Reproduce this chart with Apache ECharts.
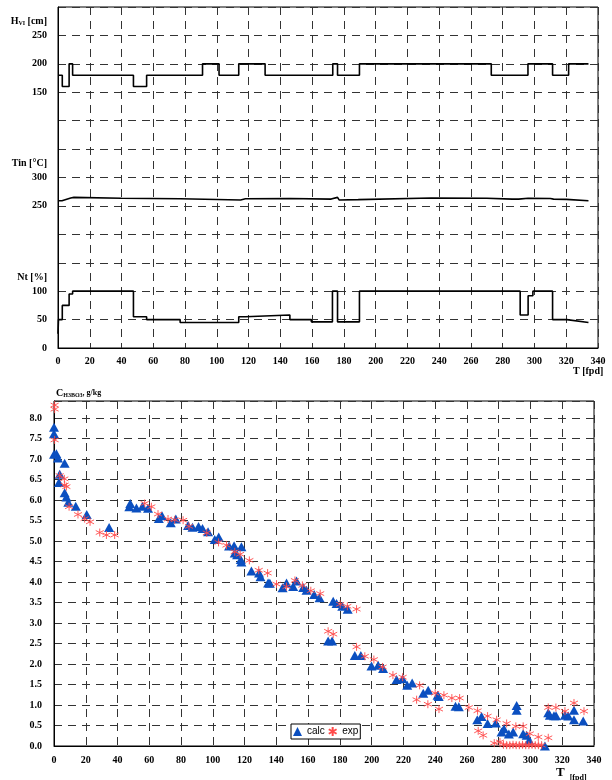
<!DOCTYPE html>
<html><head><meta charset="utf-8">
<script src="https://cdn.jsdelivr.net/npm/echarts@6/dist/echarts.min.js"></script>
<style>html,body{margin:0;padding:0;background:#fff}#c{width:612px;height:780px}</style>
</head><body><div id="c"></div>
<script>
// ---- top panel: operating history (polyline vertices) ----
const hData = [[0,180],[2.7,180],[2.7,160],[7,160],[7,200],[9.2,200],[9.2,180],[47.5,180],[47.5,160],[55.8,160],[55.8,180],[91,180],[91,200],[101.4,200],[101.4,180],[113.8,180],[113.8,200],[130.4,200],[130.4,180],[173,180],[173,200],[176,200],[176,180],[189.8,180],[189.8,200],[272.8,200],[272.8,180],[295.9,180],[295.9,200],[311.4,200],[311.4,180],[321.5,180],[321.5,200],[334,200]];
const tinData = [[0,259],[2.5,259],[2.8,262],[8,264],[10,265],[40,263.5],[77,262.5],[78,261],[115,260.5],[118,262.5],[146,263],[172,262],[173,265],[176,265],[177,260.5],[189,261],[190,264.5],[235,264],[270,263.5],[286,262],[290,262],[296,263.5],[310,263],[312,262],[320,261.5],[321,259],[334,259]];
const ntData = [[0,25],[0.3,50],[2.7,50],[2.7,75],[7,75],[7,95],[9.2,95],[9.2,100],[47.5,100],[47.5,55],[55.8,55],[55.8,50],[76.9,50],[76.9,45],[113.8,45],[113.8,55],[118,55],[118,58],[146,58],[146,50],[159.5,50],[159.5,46],[172.8,46],[172.8,100],[176,100],[176,46],[189.8,46],[189.8,100],[291,100],[291,58],[296,58],[296,92],[299,92],[299,100],[311.4,100],[311.4,50],[320.4,50],[334,45]];

// ---- bottom panel: boric acid concentration ----
const calcData = [[0,7.78],[0,7.62],[0,7.12],[1.5,7.13],[2.5,7.03],[6.7,6.9],[3.6,6.63],[3.1,6.43],[6.7,6.18],[7.8,6.08],[9,5.95],[13.7,5.85],[20.6,5.65],[34.7,5.33],
[47.4,5.84],[48,5.92],[51.9,5.81],[55.7,5.85],[59.2,5.8],[66,5.55],[68,5.62],[73.5,5.45],[76.7,5.54],[84.4,5.38],[87.2,5.34],[91,5.36],[93.5,5.31],[97,5.23],[101.2,5.04],[103.7,5.1],[110.2,4.88],[113.4,4.89],[113.8,4.71],[115.3,4.67],[118,4.86],[117.6,4.55],[118,4.49],
[124.3,4.27],[129.1,4.22],[130,4.13],[134.8,3.98],[135.9,3.97],[143.9,3.86],[146.4,3.98],[150.6,3.89],[152.7,4.03],[156.9,3.87],[159,3.8],[163.8,3.7],[167.2,3.62],[175.8,3.53],[177.9,3.48],[181.5,3.41],[184.9,3.34],[172.6,2.56],[175.1,2.56],[189.4,2.21],[193.2,2.21],[199.9,1.95],[204.1,1.97],[207.2,1.89],[215.7,1.62],[219.5,1.64],[222.4,1.48],[225.5,1.54],[232.5,1.29],[235.6,1.36],[241.5,1.24],[242.2,1.21],[252.8,0.97],[254.9,0.96],[266.5,0.64],[269.2,0.72],[273,0.55],[278.2,0.56],[281.8,0.34],[283.3,0.42],[286.4,0.29],[289.1,0.34],[291.3,0.99],[291.3,0.87],[295.4,0.3],[297.6,0.26],[299.2,0.14],[309.1,0.0],[311.2,0.81],[312.2,0.75],[314.8,0.74],[316.1,0.74],[321.7,0.75],[323.8,0.73],[327.4,0.87],[327.4,0.64],[333.2,0.61]];
const expData = [[0.4,8.32],[0.4,8.22],[0.4,7.47],[3.6,6.6],[6.5,6.52],[6.7,6.37],[7.8,6.33],[9.5,5.84],[15.1,5.65],[19.3,5.55],[22.7,5.47],[28.8,5.21],[33,5.15],[38.2,5.15],
[57.1,5.92],[61.3,5.84],[65.5,5.66],[71.8,5.54],[76,5.52],[81.3,5.51],[85,5.36],[96.2,5.2],[103.6,4.97],[108.6,4.9],[113.8,4.74],[117.2,4.68],[123,4.53],[128.9,4.29],[134.5,4.22],[140.1,3.95],[146.4,3.89],[151.7,4.04],[156.4,3.92],[161.7,3.79],[167.6,3.72],[172.6,2.8],[175.8,2.73],[180.2,3.46],[184.7,3.41],[190.5,3.34],[190.5,2.42],[195.7,2.19],[201.4,2.11],[206.9,1.93],[213.4,1.73],[219.5,1.68],[230.2,1.48],[228.3,1.13],[235.4,1.02],[240,1.29],[242.4,0.9],[245.5,1.24],[250.5,1.17],[255.4,1.17],[261.2,0.94],[266.7,0.86],[267.1,0.37],[270.2,0.26],[273,0.73],[278.7,0.64],[285,0.55],[277.2,0.07],[280.8,0.1],[283,0.03],[285,0.02],[287,0.02],[289,0.03],[291,0.02],[293,0.02],[295,0.03],[297,0.02],[299,0.02],[301,0.03],[303,0.02],[305,0.02],[307,0.02],[290.8,0.48],[295.4,0.48],[299.6,0.3],[304.9,0.22],[311.2,0.2],[311.2,0.94],[316,0.94],[321.7,0.85],[327.4,1.05],[333.7,0.85]];

// ---- tick labels ----
const xRange = [0, 340], xStep = 20;
const ntTickLabels = [0, 50, 100];
const tinTickLabels = [250, 300];
const hTickLabels = [150, 200, 250];
const cTickMax = 8.0;
const panelNames = { nt: 'Nt [%]', tin: 'Tin [°C]', h: '{b|H}{s|VI}{b| [cm]}' };
const seriesNames = ['calc', 'exp'];

const serif = 'Liberation Serif, Times New Roman, serif';
const sans = 'Liberation Sans, Arial, sans-serif';
const dash = { type: [8, 6], color: '#333', width: 1 };
const boldLbl = { fontFamily: serif, fontWeight: 'bold', fontSize: 10, color: '#000' };

function panelAxis(min, ticks, nameVal, name) {
  return {
    type: 'value', gridIndex: 0, min: min, max: min + 600, interval: 25, position: 'left',
    axisLine: { show: false }, axisTick: { show: false }, splitLine: { show: false },
    axisLabel: Object.assign({}, boldLbl, {
      margin: 11,
      formatter: v => (Math.abs(v - nameVal) < 1e-6 ? name : (ticks.indexOf(v) >= 0 ? String(v) : '')),
      rich: { b: { fontFamily: serif, fontWeight: 'bold', fontSize: 10, color: '#000' },
              s: { fontFamily: serif, fontWeight: 'bold', fontSize: 6, color: '#000', verticalAlign: 'bottom', padding: [4, 0, 0, 0] } }
    })
  };
}

const chart = echarts.init(document.getElementById('c'), null, { renderer: 'canvas' });
chart.setOption({
  animation: false,
  backgroundColor: '#fff',
  title: [
    { text: 'T [fpd]', left: 573, top: 366, padding: 0, textStyle: boldLbl },
    { text: '{t|T} {u|[fpd]}', left: 556, top: 764, padding: 0,
      textStyle: { rich: { t: { fontFamily: serif, fontWeight: 'bold', fontSize: 13, color: '#000' },
                           u: { fontFamily: serif, fontWeight: 'bold', fontSize: 8, color: '#000', verticalAlign: 'bottom' } } } },
    { text: '{c|C}{s|H3BO3}{g|, g/kg}', left: 56, top: 388, padding: 0,
      textStyle: { rich: { c: { fontFamily: serif, fontWeight: 'bold', fontSize: 10, color: '#000' },
                           s: { fontFamily: serif, fontWeight: 'bold', fontSize: 6, color: '#000', verticalAlign: 'bottom' },
                           g: { fontFamily: serif, fontWeight: 'bold', fontSize: 8, color: '#000' } } } }
  ],
  grid: [
    { left: 58, top: 7, width: 540, height: 341, show: true, borderColor: '#000', borderWidth: 1, outerBoundsMode: 'none', containLabel: false },
    { left: 54, top: 401, width: 540, height: 345, show: true, borderColor: '#000', borderWidth: 1, outerBoundsMode: 'none', containLabel: false }
  ],
  legend: {
    data: seriesNames, left: 291, top: 724, orient: 'horizontal',
    padding: [2, 2], itemGap: 3, itemWidth: 9, itemHeight: 9,
    borderColor: '#000', borderWidth: 1, backgroundColor: '#fff',
    textStyle: { fontFamily: sans, fontSize: 10, color: '#000' }
  },
  xAxis: [0, 1].map(g => ({
    type: 'value', gridIndex: g, min: xRange[0], max: xRange[1], interval: xStep,
    axisLine: { show: true, lineStyle: { color: '#000', width: 1 } },
    axisTick: { show: false },
    splitLine: { show: true, lineStyle: dash },
    axisLabel: Object.assign({}, boldLbl, { margin: g === 0 ? 8 : 9 })
  })),
  yAxis: [
    panelAxis(0, ntTickLabels, 125, panelNames.nt),
    panelAxis(0, tinTickLabels, 325, panelNames.tin),
    panelAxis(-300, hTickLabels, 275, panelNames.h),
    { type: 'value', gridIndex: 0, min: 0, max: 600, interval: 50, position: 'left',
      axisLine: { show: true, lineStyle: { color: '#000', width: 1 } }, axisTick: { show: false },
      axisLabel: { show: false }, splitLine: { show: true, lineStyle: dash } },
    { type: 'value', gridIndex: 1, min: 0, max: 8.42, interval: 0.5,
      axisLine: { show: true, lineStyle: { color: '#000', width: 1 } }, axisTick: { show: false },
      splitLine: { show: true, lineStyle: dash },
      axisLabel: Object.assign({}, boldLbl, { margin: 12, showMaxLabel: false,
        formatter: v => (v <= cTickMax + 1e-6 ? v.toFixed(1) : '') }) }
  ],
  series: [
    { type: 'line', xAxisIndex: 0, yAxisIndex: 0, data: ntData, showSymbol: false, symbol: 'none', lineStyle: { color: '#000', width: 1.6 } },
    { type: 'line', xAxisIndex: 0, yAxisIndex: 1, data: tinData, showSymbol: false, symbol: 'none', lineStyle: { color: '#000', width: 1.6 } },
    { type: 'line', xAxisIndex: 0, yAxisIndex: 2, data: hData, showSymbol: false, symbol: 'none', lineStyle: { color: '#000', width: 1.6 } },
    { name: seriesNames[0], type: 'scatter', xAxisIndex: 1, yAxisIndex: 4, data: calcData, clip: false,
      symbol: 'triangle', symbolSize: [10, 9], itemStyle: { color: '#0B4FC0', opacity: 1 } },
    { name: seriesNames[1], type: 'scatter', xAxisIndex: 1, yAxisIndex: 4, data: expData, clip: false,
      symbol: 'path://M0,-10L0,10M-8.66,-5L8.66,5M-8.66,5L8.66,-5', symbolSize: 8,
      itemStyle: { color: 'rgba(0,0,0,0)', borderColor: '#FF4A4A', borderWidth: 0.9, opacity: 1 } }
  ]
});
</script></body></html>
